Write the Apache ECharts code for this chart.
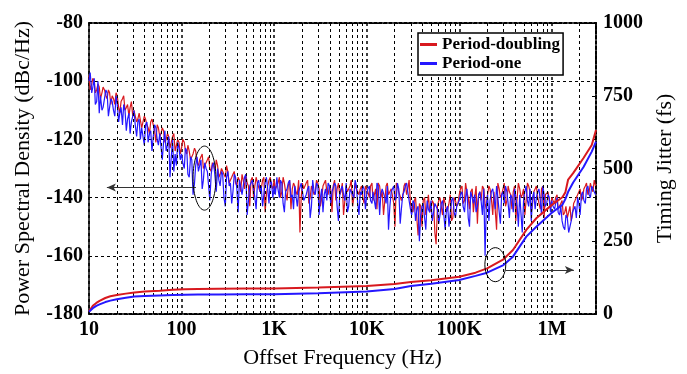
<!DOCTYPE html>
<html><head><meta charset="utf-8">
<script src="https://cdn.jsdelivr.net/npm/echarts@6/dist/echarts.min.js"></script>
<style>html,body{margin:0;padding:0;background:#fff}#c{width:687px;height:374px}</style>
</head><body><div id="c"></div>
<script>
// ---- Data ----
const freqMantissa = [1,1.07,1.14,1.21,1.29,1.38,1.47,1.57,1.67,1.78,1.9,2.02,2.15,2.3,2.45,2.61,2.78,2.97,3.16,3.37,3.59,3.83,4.08,4.35,4.64,4.95,5.28,5.62,6,6.39,6.81,7.26,7.74,8.25,8.8,9.38];
const midMantissa  = [1.03,1.1,1.17,1.25,1.33,1.42,1.52,1.62,1.72,1.84,1.96,2.09,2.22,2.37,2.53,2.7,2.87,3.06,3.27,3.48,3.71,3.96,4.22,4.5,4.79,5.11,5.45,5.81,6.19,6.6,7.04,7.5,8,8.52,9.09,9.69];
const psdDecades = [10, 100, 1000, 10000, 100000, 1000000];
const lastDecadeCount = 18;

const psdRed = [
  -98,-101,-100,-103,-102,-104,-103,-106,-104,-105,-108,-105,-111,-106,-110,-108,-109,-112,-110,-113,-111,-114,-113,-116,-114,-115,-121,-116,-118,-117,-120,-119,-121,-118,-122,-121,
  -123,-121,-125,-124,-126,-123,-128,-127,-125,-129,-127,-130,-128,-131,-129,-132,-130,-133,-131,-134,-132,-135,-133,-138,-134,-132,-136,-134,-140,-133,-135,-137,-133,-139,-134,-136,
  -134,-136,-133,-138,-135,-141,-134,-137,-136,-139,-152,-135,-137,-134,-140,-136,-138,-135,-143,-136,-134,-139,-137,-136,-141,-135,-138,-146,-136,-137,-134,-140,-137,-139,-136,-142,
  -137,-140,-135,-139,-144,-136,-138,-141,-135,-139,-137,-150,-136,-138,-140,-135,-137,-142,-145,-140,-153,-143,-141,-146,-139,-144,-142,-156,-141,-143,-140,-145,-142,-148,-140,-143,
  -139,-136,-141,-138,-144,-137,-140,-149,-138,-136,-142,-139,-137,-146,-138,-135,-140,-137,-143,-136,-139,-138,-148,-135,-140,-137,-141,-136,-145,-138,-136,-140,-137,-147,-139,-141,
  -140,-142,-139,-143,-141,-145,-147,-143,-146,-141,-139,-137,-140,-136,-139,-135,-138,-136
];
const psdRedMid = [
  -103,-99,-104,-101,-106,-102,-105,-103,-108,-106,-104,-109,-107,-105,-109,-112,-107,-110,-114,-111,-116,-112,-115,-118,-113,-117,-115,-119,-116,-121,-118,-123,-119,-124,-120,-125,
  -120,-124,-122,-127,-125,-124,-129,-126,-130,-128,-126,-131,-129,-127,-133,-130,-132,-129,-135,-133,-131,-136,-134,-132,-137,-135,-143,-133,-136,-135,-138,-134,-145,-136,-133,-137,
  -137,-135,-140,-133,-138,-136,-144,-135,-138,-134,-140,-137,-135,-142,-136,-139,-134,-137,-140,-135,-138,-136,-145,-134,-137,-139,-135,-141,-138,-136,-143,-135,-138,-137,-140,-136,
  -138,-136,-141,-137,-135,-140,-146,-136,-139,-137,-142,-135,-138,-141,-136,-139,-134,-144,-141,-147,-142,-150,-140,-143,-145,-141,-152,-143,-140,-146,-142,-144,-139,-147,-141,-142,
  -137,-142,-135,-140,-138,-145,-136,-139,-141,-137,-144,-136,-140,-138,-151,-137,-139,-135,-141,-138,-144,-136,-140,-137,-139,-146,-135,-138,-142,-137,-140,-144,-136,-139,-138,-143,
  -141,-140,-144,-142,-146,-143,-145,-148,-142,-140,-138,-141,-137,-135,-138,-137,-134
];
const psdBlue = [
  -100,-104,-99,-107,-111,-110,-106,-104,-109,-107,-112,-108,-111,-115,-110,-113,-118,-112,-115,-114,-120,-116,-115,-121,-117,-119,-116,-122,-118,-121,-124,-119,-126,-131,-129,-123,
  -125,-130,-124,-133,-127,-135,-126,-129,-137,-128,-131,-141,-129,-133,-130,-136,-132,-143,-131,-135,-138,-133,-145,-134,-136,-132,-141,-135,-137,-144,-134,-136,-139,-133,-142,-135,
  -136,-133,-140,-135,-145,-137,-134,-139,-136,-143,-138,-135,-141,-137,-147,-134,-139,-136,-140,-145,-137,-135,-142,-138,-136,-148,-137,-139,-135,-143,-138,-140,-136,-146,-139,-137,
  -139,-136,-142,-138,-135,-146,-137,-140,-136,-143,-138,-141,-135,-149,-139,-136,-138,-144,-141,-148,-143,-146,-142,-151,-144,-141,-145,-143,-149,-142,-146,-144,-150,-141,-145,-143,
  -141,-138,-145,-137,-150,-140,-139,-143,-138,-146,-160,-139,-141,-137,-144,-140,-149,-138,-136,-142,-139,-145,-137,-150,-139,-141,-136,-143,-148,-138,-140,-137,-146,-139,-142,-140,
  -141,-144,-140,-146,-148,-151,-147,-150,-145,-143,-140,-146,-138,-142,-136,-140,-137,-139
];
const psdBlueMid = [
  -97,-102,-108,-100,-105,-109,-103,-112,-106,-110,-105,-114,-109,-108,-117,-111,-114,-110,-119,-113,-116,-122,-114,-118,-124,-115,-120,-118,-127,-117,-122,-133,-120,-125,-121,-127,
  -128,-123,-132,-126,-139,-129,-131,-127,-134,-130,-136,-132,-128,-138,-134,-131,-140,-133,-136,-142,-132,-137,-134,-139,-133,-146,-136,-134,-140,-135,-138,-143,-135,-137,-134,-140,
  -139,-137,-134,-142,-138,-135,-140,-144,-136,-138,-135,-141,-139,-136,-143,-138,-135,-146,-137,-139,-141,-136,-138,-135,-143,-139,-136,-141,-145,-137,-139,-134,-142,-138,-136,-144,
  -137,-141,-138,-144,-136,-139,-137,-142,-151,-138,-136,-140,-137,-144,-138,-135,-141,-146,-142,-144,-155,-143,-147,-141,-145,-148,-142,-144,-146,-141,-151,-143,-145,-140,-147,-142,
  -139,-143,-140,-147,-138,-142,-145,-139,-141,-137,-143,-148,-138,-140,-136,-145,-139,-142,-138,-147,-140,-137,-143,-139,-152,-138,-141,-137,-140,-144,-138,-141,-136,-143,-139,-145,
  -143,-142,-145,-143,-150,-146,-152,-148,-144,-147,-142,-139,-141,-137,-139,-136,-138
];

const jitFreq  = [10,11,12,13,15,17,20,25,31,40,58,80,108,150,250,500,1000,3000,10000,20000,30000,50000,100000,150000,200000,300000,380000,530000,680000,1000000,1300000,1400000,1500000,1700000,2200000,2700000,3000000];
const jitRed   = [8,28,38,45,55,61,65,70,74,77,80,83,85,86,87,88,88,91,96,103,110,116,128,142,157,188,220,289,329,375,401,418,462,484,536,581,632];
const jitBlue  = [8,20,28,33,41,46,51,56,60,62,64,65,66,67,67,68,68,71,77,86,96,104,117,131,142,168,197,266,300,348,375,395,420,452,505,558,592];

const leftTicks  = [-180,-160,-140,-120,-100,-80];
const rightTicks = [0,250,500,750,1000];
const minorMantissa = [2,3,4,5,6,7,8,9];
const seriesNames = ['Period-doubling','Period-one'];

// annotation anchor points (data units)
const ellipsePsd = {x:[133,235], y:[-122.3,-144.3]};
const arrowPsd   = {x:[143,15.6], y:-136.5};
const ellipseJit = {x:[189000,318000], y:[228,111]};
const arrowJit   = {x:[318000,1730000], y:151};

// ---- build (interleave on-grid and half-step samples) ----
const psdFreq = [], redAll = [], blueAll = [];
let gi = 0, mi = 0;
psdDecades.forEach((d, di) => {
  const last = di === psdDecades.length - 1;
  const n = last ? lastDecadeCount : freqMantissa.length;
  for (let k = 0; k < n; k++) {
    psdFreq.push(+(freqMantissa[k] * d).toPrecision(4)); redAll.push(psdRed[gi]); blueAll.push(psdBlue[gi]); gi++;
    if (!last || k < n - 1) {
      psdFreq.push(+(midMantissa[k] * d).toPrecision(4)); redAll.push(psdRedMid[mi]); blueAll.push(psdBlueMid[mi]); mi++;
    }
  }
});
const minorVals = [];
psdDecades.forEach(d => minorMantissa.forEach(m => { if (m * d < 3000000) minorVals.push(m * d); }));

const FONT = "'Liberation Serif','Times New Roman',serif";
const RED = '#d8191f', BLUE = '#2517ff';

function fmtX(v) {
  v = Math.round(v);
  if (v >= 1e6) return (v / 1e6) + 'M';
  if (v >= 1e3) return (v / 1e3) + 'K';
  return String(v);
}

const chart = echarts.init(document.getElementById('c'), null, {renderer: 'canvas'});
const tickFont = {fontFamily: FONT, fontWeight: 'bold', fontSize: 20, color: '#000'};
const nameFont = {fontFamily: FONT, fontSize: 22, color: '#000'};

chart.setOption({
  animation: false,
  backgroundColor: '#fff',
  grid: {left: 89, right: 91, top: 23, bottom: 60, containLabel: false},
  legend: {
    data: seriesNames, orient: 'vertical', left: 418, top: 33,
    padding: [3, 3, 3, 2], itemWidth: 17, itemHeight: 3, itemGap: 2, icon: 'rect',
    borderColor: '#000', borderWidth: 1.5, backgroundColor: '#fff', z: 20,
    textStyle: {fontFamily: FONT, fontWeight: 'bold', fontSize: 17, color: '#000', lineHeight: 17}
  },
  xAxis: [{
    type: 'log', logBase: 10, min: 10, max: 3000000,
    name: 'Offset Frequency (Hz)', nameLocation: 'middle', nameGap: 33, nameTextStyle: nameFont,
    axisLine: {show: true, lineStyle: {color: '#000', width: 2, type: [3, 2]}},
    axisTick: {show: false},
    axisLabel: Object.assign({margin: 6, formatter: fmtX, showMaxLabel: false}, tickFont),
    splitLine: {show: true, lineStyle: {color: '#000', width: 1.5, type: [3, 3]}}
  }, {
    type: 'log', logBase: 10, min: 10, max: 3000000, position: 'top',
    axisLine: {show: true, lineStyle: {color: '#000', width: 2, type: [3, 2]}},
    axisTick: {show: false}, axisLabel: {show: false}, splitLine: {show: false}
  }],
  yAxis: [{
    type: 'value', min: leftTicks[0], max: leftTicks[leftTicks.length - 1], interval: 20,
    name: 'Power Spectral Density (dBc/Hz)', nameLocation: 'middle', nameGap: 55, nameRotate: 90,
    nameTextStyle: nameFont,
    axisLine: {show: true, lineStyle: {color: '#000', width: 1.5}},
    axisTick: {show: false},
    axisLabel: Object.assign({margin: 6, formatter: v => String(v)}, tickFont),
    splitLine: {show: true, lineStyle: {color: '#000', width: 1, type: [3, 3]}}
  }, {
    type: 'value', min: rightTicks[0], max: rightTicks[rightTicks.length - 1], interval: 250,
    position: 'right',
    name: 'Timing Jitter (fs)', nameLocation: 'middle', nameGap: 46, nameRotate: 90,
    nameTextStyle: nameFont,
    axisLine: {show: true, lineStyle: {color: '#000', width: 2, type: [3, 2]}},
    axisTick: {show: true, inside: true, length: 4, lineStyle: {color: '#000', width: 1}},
    axisLabel: Object.assign({margin: 7, formatter: v => String(v)}, tickFont),
    splitLine: {show: false}
  }],
  series: [
    {
      type: 'line', data: [], xAxisIndex: 0, yAxisIndex: 0, z: 1, silent: true,
      markLine: {
        silent: true, symbol: 'none', label: {show: false}, animation: false,
        lineStyle: {color: '#000', width: 1, type: [3, 3]},
        data: minorVals.map(v => ({xAxis: v})).concat([[
          {coord: [arrowPsd.x[0], arrowPsd.y], symbol: 'none', lineStyle: {color: '#333', width: 1, type: 'solid'}},
          {coord: [arrowPsd.x[1], arrowPsd.y], symbol: 'arrow', symbolSize: [6, 9]}
        ]])
      }
    },
    {
      name: seriesNames[0], type: 'line', xAxisIndex: 0, yAxisIndex: 0, z: 3,
      showSymbol: false, symbol: 'none', color: RED,
      lineStyle: {color: RED, width: 1.2},
      data: psdFreq.map((f, i) => [f, redAll[i]])
    },
    {
      name: seriesNames[1], type: 'line', xAxisIndex: 0, yAxisIndex: 0, z: 4,
      showSymbol: false, symbol: 'none', color: BLUE,
      lineStyle: {color: BLUE, width: 1.2},
      data: psdFreq.map((f, i) => [f, blueAll[i]])
    },
    {
      name: seriesNames[0], type: 'line', xAxisIndex: 0, yAxisIndex: 1, z: 5,
      showSymbol: false, symbol: 'none', color: RED,
      lineStyle: {color: RED, width: 2},
      data: jitFreq.map((f, i) => [f, jitRed[i]])
    },
    {
      name: seriesNames[1], type: 'line', xAxisIndex: 0, yAxisIndex: 1, z: 5,
      showSymbol: false, symbol: 'none', color: BLUE,
      lineStyle: {color: BLUE, width: 2},
      data: jitFreq.map((f, i) => [f, jitBlue[i]])
    },
    {
      type: 'line', data: [], xAxisIndex: 0, yAxisIndex: 1, z: 6, silent: true,
      markLine: {
        silent: true, symbol: 'none', label: {show: false}, animation: false,
        data: [[
          {coord: [arrowJit.x[0], arrowJit.y], symbol: 'none', lineStyle: {color: '#333', width: 1, type: 'solid'}},
          {coord: [arrowJit.x[1], arrowJit.y], symbol: 'arrow', symbolSize: [6, 9]}
        ]]
      }
    }
  ]
});

function ellipseShape(e, yi) {
  const p1 = chart.convertToPixel({xAxisIndex: 0, yAxisIndex: yi}, [e.x[0], e.y[0]]);
  const p2 = chart.convertToPixel({xAxisIndex: 0, yAxisIndex: yi}, [e.x[1], e.y[1]]);
  return {cx: (p1[0] + p2[0]) / 2, cy: (p1[1] + p2[1]) / 2,
          rx: Math.abs(p2[0] - p1[0]) / 2, ry: Math.abs(p2[1] - p1[1]) / 2};
}
chart.setOption({
  graphic: [
    {type: 'ellipse', shape: ellipseShape(ellipsePsd, 0), style: {fill: 'none', stroke: '#000', lineWidth: 1}, z: 10, silent: true},
    {type: 'ellipse', shape: ellipseShape(ellipseJit, 1), style: {fill: 'none', stroke: '#000', lineWidth: 1}, z: 10, silent: true}
  ]
});
</script></body></html>
